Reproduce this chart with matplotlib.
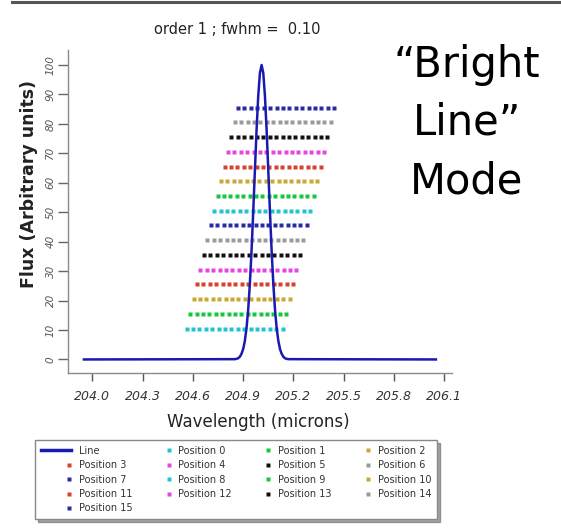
#!/usr/bin/env python3
"""
Bright line mode: line profile with the sampled slit positions.
"""
import numpy as np
import matplotlib
matplotlib.use('Agg')
import matplotlib.pyplot as plt
from matplotlib.lines import Line2D
from matplotlib.legend_handler import HandlerLine2D

# Line profile (order 1, fwhm = 0.10 micron)
line_wave = [203.95,
             204.85, 204.86, 204.87, 204.88, 204.89, 204.90, 204.91, 204.92,
             204.93, 204.94, 204.95, 204.96, 204.97, 204.98, 204.99, 205.00,
             205.01,
             205.02, 205.03, 205.04, 205.05, 205.06, 205.07, 205.08, 205.09,
             205.10, 205.11, 205.12, 205.13, 205.14, 205.15, 205.16, 205.17,
             206.05]
line_flux = [0.0,
             0.1, 0.2, 0.4, 0.9, 1.9, 3.5, 6.3, 10.6,
             16.9, 25.7, 36.8, 50.0, 64.2, 77.9, 89.5, 97.3,
             100.0,
             97.3, 89.5, 77.9, 64.2, 50.0, 36.8, 25.7, 16.9,
             10.6, 6.3, 3.5, 1.9, 0.9, 0.4, 0.2, 0.1,
             0.0]

# Slit positions: flux level of each row and wavelength of its first pixel
position_names = [f"Position {i}" for i in range(16)]
position_levels = [10.5, 15.5, 20.5, 25.5, 30.5, 35.5, 40.5, 45.5,
                   50.5, 55.5, 60.5, 65.5, 70.5, 75.5, 80.5, 85.5]
position_start = [204.563, 204.584, 204.604, 204.625, 204.645, 204.666,
                  204.686, 204.707, 204.727, 204.748, 204.768, 204.789,
                  204.809, 204.830, 204.850, 204.870]
# wavelength offsets of the 16 detector pixels along a row
pixel_offsets = [0.000, 0.038, 0.076, 0.115, 0.153, 0.191, 0.229, 0.267,
                 0.306, 0.344, 0.382, 0.420, 0.458, 0.497, 0.535, 0.573]
position_colors = ['#22c4d0', '#17c93a', '#c8a833', '#d8412b',
                   '#e645e0', '#111111', '#9a9a9a', '#2a2aa0',
                   '#22c4d0', '#17c93a', '#c8a833', '#d8412b',
                   '#e645e0', '#111111', '#9a9a9a', '#2a2aa0']

x_ticks = [204.0, 204.3, 204.6, 204.9, 205.2, 205.5, 205.8, 206.1]
y_ticks = [0, 10, 20, 30, 40, 50, 60, 70, 80, 90, 100]

LINE_COLOR = '#1a1ab0'


class RightDotHandler(HandlerLine2D):
    """Legend handler that puts the single marker at the right end of the handle."""
    def get_xdata(self, legend, xdescent, ydescent, width, height, fontsize):
        x = np.array([-xdescent + 0.93 * width])
        return x, x


fig = plt.figure(figsize=(5.61, 5.28), dpi=100)
ax = fig.add_axes([68 / 561, 155 / 528, 384 / 561, 323 / 528])

# dotted rows for each slit position
for level, start, color in zip(position_levels, position_start, position_colors):
    xs = [start + off for off in pixel_offsets]
    ax.plot(xs, [level] * len(xs), ls='none', marker='s', ms=2.3,
            mec='none', color=color, zorder=2)

ax.plot(line_wave, line_flux, color=LINE_COLOR, lw=1.8, zorder=3)

ax.set_xlim(203.855, 206.146)
ax.set_ylim(-4.6, 105.1)

for side in ['top', 'right']:
    ax.spines[side].set_visible(False)
for side in ['left', 'bottom']:
    ax.spines[side].set_color('#8a8a8a')
    ax.spines[side].set_linewidth(1.0)

ax.set_xticks(x_ticks)
ax.set_xticklabels([f"{v:.1f}" for v in x_ticks], fontsize=9, style='italic',
                   color='#333333')
ax.set_yticks(y_ticks)
ax.set_yticklabels([str(v) for v in y_ticks], fontsize=7.5, style='italic',
                   color='#555555', rotation=90, va='center')
ax.tick_params(axis='x', direction='out', length=6, width=1, color='#555555', pad=6)
ax.tick_params(axis='y', direction='out', length=7, width=1, color='#666666', pad=2)

fig.text(258 / 561, 1 - 422 / 528, "Wavelength (microns)", ha='center', va='center',
         fontsize=12, color='#222222')
fig.text(29.5 / 561, 1 - 184 / 528, "Flux (Arbitrary units)", ha='center', va='center',
         rotation=90, fontsize=12.5, fontweight='bold', color='#222222')
fig.text(237 / 561, 1 - 29 / 528, "order 1 ; fwhm =  0.10", ha='center', va='center',
         fontsize=10.5, color='#222222')

# mode annotation on the right
for txt, base in [("\u201cBright", 77), ("Line\u201d", 135), ("Mode", 193)]:
    fig.text(467 / 561, 1 - base / 528, txt, ha='center', va='baseline',
             fontsize=30, color='black')

# thin dark rule along the top edge
fig.add_artist(Line2D([12 / 561, 1.0], [1 - 1.5 / 528, 1 - 1.5 / 528],
                      transform=fig.transFigure, color='#555555', lw=2.2))

# legend, filled column by column to read row by row
line_handle = Line2D([], [], color=LINE_COLOR, lw=2.5)
pos_handles = [Line2D([], [], ls='none', marker='s', ms=2.5, mec='none', color=c)
               for c in position_colors]
columns = [[('Line', line_handle)] + [(position_names[i], pos_handles[i]) for i in (3, 7, 11, 15)],
           [(position_names[i], pos_handles[i]) for i in (0, 4, 8, 12)],
           [(position_names[i], pos_handles[i]) for i in (1, 5, 9, 13)],
           [(position_names[i], pos_handles[i]) for i in (2, 6, 10, 14)]]
labels = [lab for col in columns for lab, _ in col]
handles = [h for col in columns for _, h in col]

leg = fig.legend(handles, labels, ncol=4, loc='upper left',
                 bbox_to_anchor=(35 / 561, 0.0, 402 / 561, 1 - 440 / 528),
                 mode='expand', fontsize=7, handlelength=3.1, handletextpad=0.8,
                 labelspacing=0.45, borderpad=0.6, borderaxespad=0,
                 fancybox=False, shadow=True, edgecolor='#888888',
                 handler_map={h: RightDotHandler() for h in pos_handles})
leg.get_frame().set_linewidth(1.0)
for t in leg.get_texts():
    t.set_color('#333333')

fig.savefig('out.png', dpi=100)
